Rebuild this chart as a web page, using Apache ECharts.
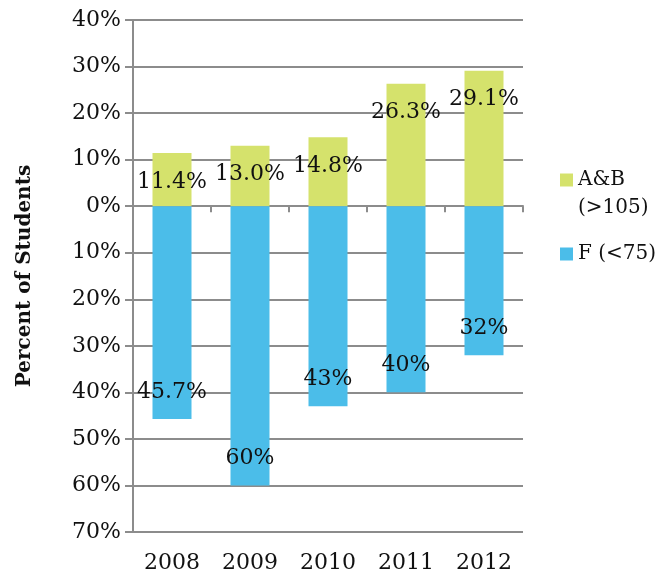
<!DOCTYPE html>
<html>
<head>
<meta charset="utf-8">
<script src="https://cdn.jsdelivr.net/npm/echarts@6/dist/echarts.min.js"></script>
<style>
  html, body { margin: 0; padding: 0; background: #fff; }
  #chart { width: 660px; height: 579px; }
</style>
</head>
<body>
<div id="chart"></div>
<script>
// data
const years = ['2008', '2009', '2010', '2011', '2012'];
const abValues = [11.4, 13.0, 14.8, 26.3, 29.1];
const abLabels = ['11.4%', '13.0%', '14.8%', '26.3%', '29.1%'];
const fValues = [-45.7, -60, -43, -40, -32];
const fLabels = ['45.7%', '60%', '43%', '40%', '32%'];

const font = 'DejaVu Serif';
const gridColor = '#8c8c8c';

let chart = echarts.init(document.getElementById('chart'));

chart.setOption({
    animation: false,
    textStyle: { fontFamily: font },
    grid: { left: 133, right: 137, top: 20, bottom: 47 },
    legend: {
        orient: 'vertical',
        left: 555,
        top: 133,
        itemWidth: 13,
        itemHeight: 13,
        itemGap: 18,
        icon: 'rect',
        textStyle: { fontFamily: font, fontSize: 20, color: '#111', lineHeight: 28 },
        // blank first line so the square sits level with "A&B"
        formatter: function (name) {
            return name === 'A&B (>105)' ? '\nA&B\n(>105)' : name;
        },
        data: ['A&B (>105)', 'F (<75)']
    },
    xAxis: [
        {
            type: 'category',
            data: years,
            position: 'bottom',
            axisLine: { onZero: true, lineStyle: { color: gridColor, width: 2 } },
            axisTick: { show: true, length: 6, lineStyle: { color: gridColor, width: 2 } },
            axisLabel: { show: false }
        },
        {
            type: 'category',
            data: years,
            position: 'bottom',
            axisLine: { show: false, onZero: false },
            axisTick: { show: false },
            axisLabel: { fontFamily: font, fontSize: 22, color: '#111', margin: 20 }
        }
    ],
    yAxis: {
        type: 'value',
        min: -70,
        max: 40,
        interval: 10,
        name: 'Percent of Students',
        nameLocation: 'middle',
        nameGap: 98,
        nameTextStyle: { fontFamily: font, fontSize: 20, fontWeight: 'bold', color: '#111' },
        axisLine: { show: true, lineStyle: { color: gridColor, width: 2 } },
        axisTick: { show: true, length: 8, lineStyle: { color: gridColor, width: 2 } },
        splitLine: { lineStyle: { color: gridColor, width: 2 } },
        axisLabel: {
            fontFamily: font, fontSize: 22, color: '#111', margin: 12,
            formatter: function (v) { return Math.abs(v) + '%'; }
        }
    },
    series: [
        {
            name: 'A&B (>105)',
            type: 'bar',
            stack: 'all',
            xAxisIndex: 0,
            barWidth: '50%',
            itemStyle: { color: '#d5e26c' },
            label: {
                show: true,
                position: 'insideTop',
                distance: 18,
                fontFamily: font,
                fontSize: 22,
                color: '#111',
                formatter: function (p) { return abLabels[p.dataIndex]; }
            },
            data: abValues
        },
        {
            name: 'F (<75)',
            type: 'bar',
            stack: 'all',
            xAxisIndex: 0,
            barWidth: '50%',
            itemStyle: { color: '#4bbde9' },
            label: {
                show: true,
                position: 'insideBottom',
                distance: 16,
                fontFamily: font,
                fontSize: 22,
                color: '#111',
                formatter: function (p) { return fLabels[p.dataIndex]; }
            },
            data: fValues
        }
    ]
});
</script>
</body>
</html>
